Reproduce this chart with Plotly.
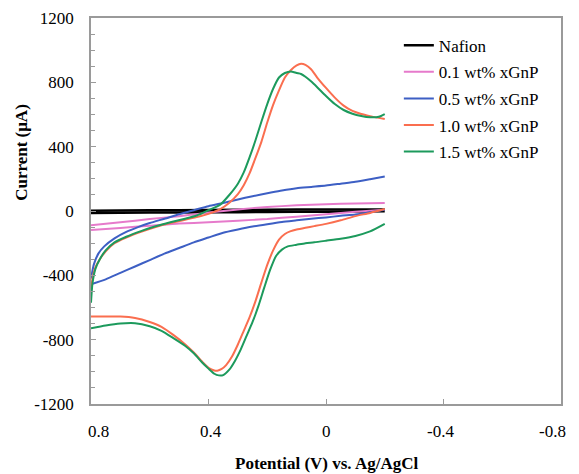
"""Cyclic voltammograms of Nafion / xGnP films"""
import plotly.graph_objects as go

# --- data (potential in V, current in uA) ---
nafion_fwd_v = [0.8, 0.6, 0.4, 0.2, 0.0, -0.2]
nafion_fwd_i = [2, 4, 6, 8, 9, 10]
nafion_rev_v = [0.8, 0.6, 0.4, 0.2, 0.0, -0.2]
nafion_rev_i = [-12, -10, -8, -6, -4, -2]

gnp01_fwd_v = [0.8, 0.7, 0.6, 0.5, 0.46, 0.4, 0.3, 0.2, 0.1, 0.0, -0.1, -0.2]
gnp01_fwd_i = [-88, -70, -50, -32, -24, -10, 10, 25, 35, 42, 47, 50]
gnp01_rev_v = [0.8, 0.7, 0.6, 0.5, 0.4, 0.3, 0.2, 0.1, 0.0, -0.1, -0.2]
gnp01_rev_i = [-118, -105, -92, -78, -70, -60, -50, -35, -20, -5, 8]

gnp05_fwd_v = [0.8, 0.79, 0.775, 0.755, 0.72, 0.68, 0.64, 0.60, 0.55, 0.50, 0.45, 0.40,
               0.35, 0.30, 0.25, 0.20, 0.15, 0.10, 0.05, 0.0, -0.05, -0.1, -0.15, -0.2]
gnp05_fwd_i = [-420, -330, -265, -220, -170, -130, -100, -75, -48, -20, 5, 30,
               50, 72, 92, 110, 128, 142, 150, 158, 170, 182, 198, 215]
gnp05_rev_v = [0.8, 0.75, 0.70, 0.65, 0.60, 0.55, 0.50, 0.45, 0.40, 0.35, 0.30, 0.25,
               0.20, 0.15, 0.10, 0.05, 0.0, -0.05, -0.1, -0.15, -0.2]
gnp05_rev_i = [-455, -425, -385, -345, -305, -265, -230, -195, -165, -135, -115, -97,
               -82, -68, -58, -48, -40, -30, -22, -8, 7]

gnp10_fwd_v = [0.8, 0.795, 0.785, 0.77, 0.75, 0.72, 0.68, 0.63, 0.58, 0.53, 0.48, 0.44,
               0.40, 0.36, 0.33, 0.30, 0.28, 0.26, 0.24, 0.22, 0.20, 0.18, 0.16, 0.14,
               0.12, 0.10, 0.085, 0.07, 0.05, 0.03, 0.0, -0.03, -0.06, -0.09, -0.12,
               -0.15, -0.18, -0.2]
gnp10_fwd_i = [-500, -420, -350, -300, -250, -200, -165, -130, -100, -75, -55, -38,
               -18, 12, 50, 105, 160, 235, 330, 430, 550, 660, 750, 830,
               875, 905, 915, 908, 880, 830, 765, 705, 655, 622, 603,
               590, 579, 572]
gnp10_rev_v = [0.8, 0.75, 0.70, 0.65, 0.60, 0.56, 0.52, 0.48, 0.45, 0.42, 0.40, 0.38,
               0.37, 0.355, 0.34, 0.32, 0.30, 0.28, 0.26, 0.24, 0.22, 0.20, 0.18, 0.16,
               0.14, 0.12, 0.10, 0.07, 0.04, 0.0, -0.05, -0.1, -0.15, -0.2]
gnp10_rev_i = [-656, -656, -656, -665, -690, -720, -770, -828, -880, -940, -975, -992,
               -993, -982, -958, -905, -830, -745, -660, -560, -445, -335, -245, -178,
               -143, -125, -115, -104, -94, -80, -58, -32, -12, 12]

gnp15_fwd_v = gnp10_fwd_v
gnp15_fwd_i = [-570, -450, -360, -300, -245, -195, -160, -125, -95, -70, -48, -28,
               5, 40, 98, 170, 240, 335, 440, 555, 665, 760, 830, 858,
               868, 858, 852, 835, 805, 770, 715, 665, 628, 605, 591,
               583, 586, 603]
gnp15_rev_v = [0.8, 0.75, 0.70, 0.65, 0.60, 0.56, 0.52, 0.48, 0.45, 0.42, 0.40, 0.38,
               0.365, 0.35, 0.33, 0.31, 0.29, 0.27, 0.25, 0.23, 0.21, 0.19, 0.17, 0.15,
               0.13, 0.10, 0.07, 0.04, 0.0, -0.05, -0.1, -0.15, -0.2]
gnp15_rev_i = [-729, -712, -700, -698, -717, -745, -790, -838, -885, -945, -980, -1012,
               -1022, -1020, -988, -932, -860, -775, -690, -590, -475, -365, -280, -240,
               -220, -210, -200, -195, -185, -172, -155, -127, -80]

x_ticks = [0.8, 0.4, 0, -0.4, -0.8]
x_ticklabels = ['0.8', '0.4', '0', '-0.4', '-0.8']
y_ticks = [-1200, -800, -400, 0, 400, 800, 1200]
y_ticklabels = ['-1200', '-800', '-400', '0', '400', '800', '1200']

names = ['Nafion', '0.1 wt% xGnP', '0.5 wt% xGnP', '1.0 wt% xGnP', '1.5 wt% xGnP']
colors = ['#000000', '#E67ACB', '#3D5FC4', '#FA6E4F', '#1C9A5C']

series = [
    (nafion_fwd_v, nafion_fwd_i, nafion_rev_v, nafion_rev_i),
    (gnp01_fwd_v, gnp01_fwd_i, gnp01_rev_v, gnp01_rev_i),
    (gnp05_fwd_v, gnp05_fwd_i, gnp05_rev_v, gnp05_rev_i),
    (gnp10_fwd_v, gnp10_fwd_i, gnp10_rev_v, gnp10_rev_i),
    (gnp15_fwd_v, gnp15_fwd_i, gnp15_rev_v, gnp15_rev_i),
]

FONT = 'Liberation Serif'
AXIS_GREY = '#9a9a9a'

fig = go.Figure()
for name, color, (fv, fi, rv, ri) in zip(names, colors, series):
    fig.add_trace(go.Scatter(
        x=list(fv) + [None] + list(rv),
        y=list(fi) + [None] + list(ri),
        mode='lines',
        name=name,
        legendgroup=name,
        line=dict(color=color, width=2.5 if name == 'Nafion' else 2, shape='spline', smoothing=0.6),
        connectgaps=False,
    ))

# x tick labels drawn as annotations: the end ones sit a bit inside the axis ends
x_shift = [7, 2, 0, -3, -9]
annotations = [
    dict(text=lbl, x=val, xref='x', y=0, yref='paper', yanchor='top', yshift=-16,
         xshift=sh, showarrow=False, font=dict(family=FONT, size=17))
    for val, lbl, sh in zip(x_ticks, x_ticklabels, x_shift)
]
annotations.append(dict(
    text='<b>Potential (V) vs. Ag/AgCl</b>',
    xref='paper', yref='paper', x=0.5, y=-0.153,
    xanchor='center', yanchor='middle',
    showarrow=False, font=dict(family=FONT, size=17),
))
annotations.append(dict(
    text='<b>Current (\u03bcA)</b>',
    xref='paper', yref='paper', x=-0.147, y=0.653,
    xanchor='center', yanchor='middle', textangle=-90,
    showarrow=False, font=dict(family=FONT, size=17),
))

# the page body adds an 8 px margin, so the figure is 8 px smaller each way
fig.update_layout(
    width=571,
    height=466,
    margin=dict(l=83, r=18, t=10, b=70),
    paper_bgcolor='white',
    plot_bgcolor='white',
    font=dict(family=FONT, size=17, color='black'),
    legend=dict(
        x=0.655, y=0.975, xanchor='left', yanchor='top',
        font=dict(family=FONT, size=17),
        bgcolor='rgba(255,255,255,0)',
        itemwidth=30,
        tracegroupgap=1.5,
    ),
    showlegend=True,
    annotations=annotations,
)

fig.update_xaxes(
    range=[0.8, -0.8],
    tickvals=x_ticks,
    showticklabels=False,
    ticks='inside', ticklen=5, tickcolor=AXIS_GREY,
    showline=True, linecolor=AXIS_GREY, linewidth=1.5, mirror=True,
    showgrid=False, zeroline=False,
    automargin=False,
)
fig.update_yaxes(
    range=[-1200, 1200],
    tickvals=y_ticks,
    ticktext=y_ticklabels,
    ticks='inside', ticklen=5, tickcolor=AXIS_GREY,
    minor=dict(dtick=100, ticks='inside', ticklen=4, tickcolor=AXIS_GREY),
    showline=True, linecolor=AXIS_GREY, linewidth=1.5, mirror=True,
    showgrid=False, zeroline=False,
    automargin=False,
    ticklabelstandoff=12,
    ticklabeloverflow='allow',
)

fig.write_html("out.html")
